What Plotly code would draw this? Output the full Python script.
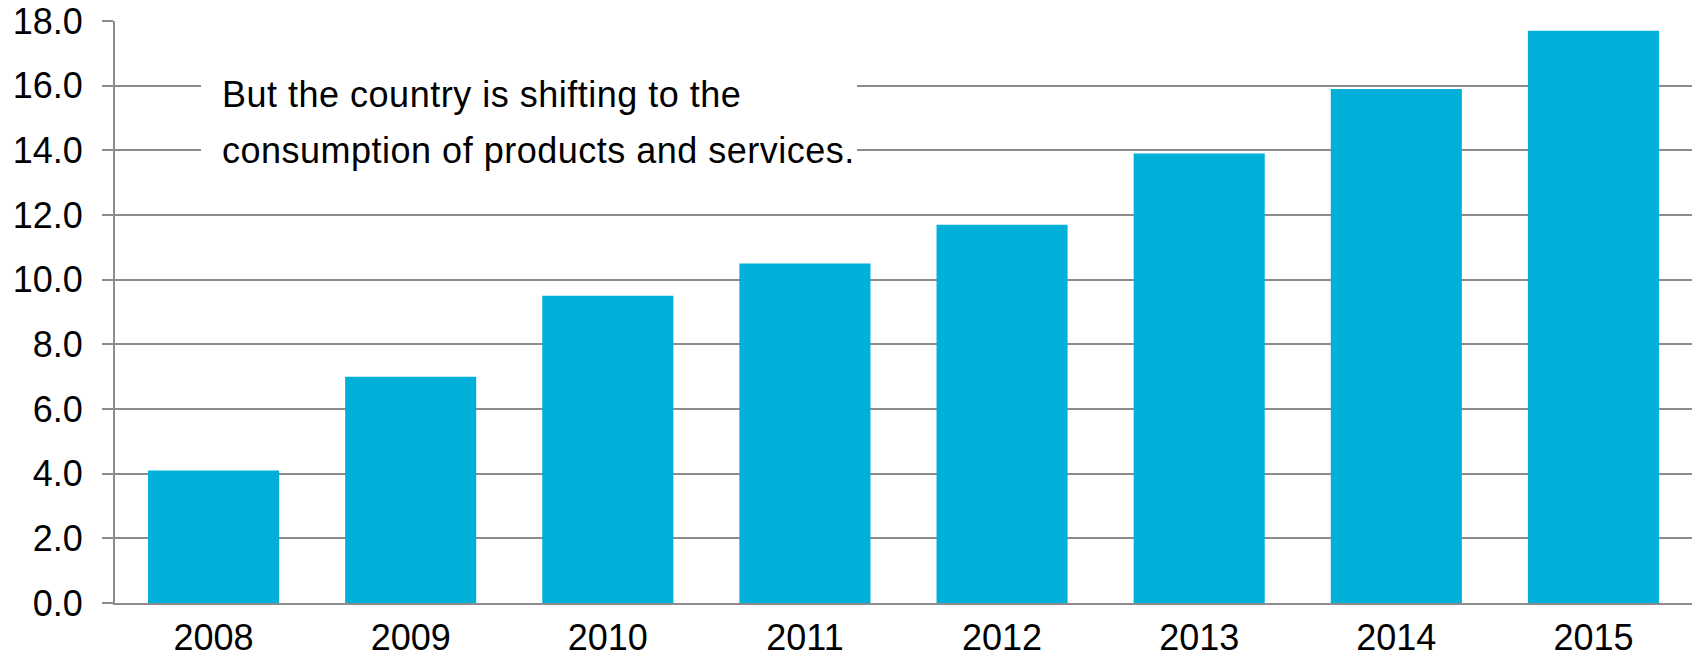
import plotly.graph_objects as go

# Annual values by year
years = ["2008", "2009", "2010", "2011", "2012", "2013", "2014", "2015"]
values = [4.1, 7.0, 9.5, 10.5, 11.7, 13.9, 15.9, 17.7]

# Y-axis ticks
y_ticks = [0, 2, 4, 6, 8, 10, 12, 14, 16, 18]
y_tick_labels = [f"{v:.1f}" for v in y_ticks]

note_lines = [
    "But the country is shifting to the",
    "consumption of products and services.",
]

BAR_COLOR = "#00B0D8"
GRID_COLOR = "#8C8C8C"
FONT = "Liberation Sans, Arial, sans-serif"

fig = go.Figure(
    go.Bar(
        x=years,
        y=values,
        marker=dict(color=BAR_COLOR, line=dict(width=0)),
        hoverinfo="x+y",
    )
)

# White panel behind the note so gridlines break around it
fig.add_shape(
    type="rect",
    xref="paper", yref="paper",
    x0=0.0545, x1=0.4705, y0=0.735, y1=0.93,
    fillcolor="white", line=dict(width=0),
    layer="above",
)

note_y = [0.873, 0.777]
for text, yy in zip(note_lines, note_y):
    fig.add_annotation(
        xref="paper", yref="paper",
        x=0.0668, y=yy,
        xanchor="left", yanchor="middle",
        text=f'<span style="letter-spacing:0.5px">{text}</span>',
        showarrow=False,
        font=dict(family=FONT, size=36, color="#000000"),
    )

fig.update_layout(
    width=1696,
    height=658,
    margin=dict(l=115, r=4, t=21, b=55),
    paper_bgcolor="white",
    plot_bgcolor="white",
    bargap=0.335,
    showlegend=False,
    font=dict(family=FONT, size=36, color="#000000"),
)

fig.update_xaxes(
    type="category",
    automargin=False,
    showgrid=False,
    showline=True,
    linecolor=GRID_COLOR,
    linewidth=2,
    ticks="",
    ticklabelstandoff=2,
    tickfont=dict(family=FONT, size=36, color="#000000"),
)

fig.update_yaxes(
    range=[0, 18],
    automargin=False,
    tickvals=y_ticks,
    ticktext=y_tick_labels,
    showgrid=True,
    gridcolor=GRID_COLOR,
    gridwidth=1.5,
    zeroline=False,
    showline=True,
    linecolor=GRID_COLOR,
    linewidth=2,
    ticks="outside",
    ticklen=11,
    tickwidth=1.5,
    tickcolor=GRID_COLOR,
    ticklabelstandoff=12,
    tickfont=dict(family=FONT, size=36, color="#000000"),
)

fig.write_html("out.html")
